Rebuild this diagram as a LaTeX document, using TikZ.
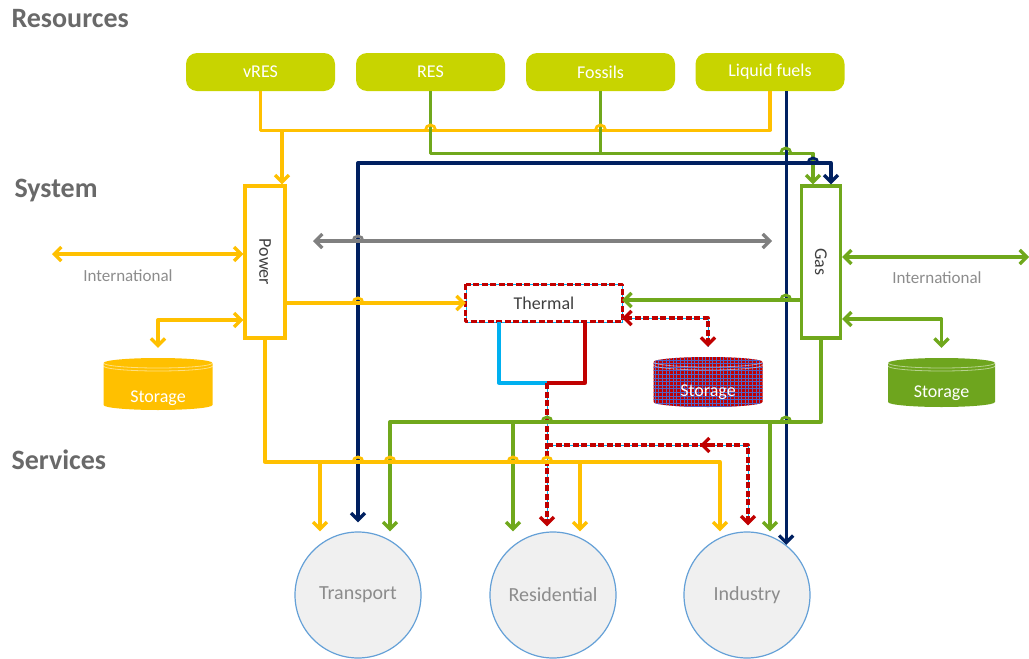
\documentclass[tikz,border=0pt]{standalone}
\usepackage{fontspec}
\usepackage{graphicx}
\setmainfont{Carlito}
\usetikzlibrary{arrows.meta,calc}
\definecolor{lime}{RGB}{200,212,0}
\definecolor{yel}{RGB}{255,192,0}
\definecolor{grn}{RGB}{112,168,28}
\definecolor{navy}{RGB}{0,32,96}
\definecolor{gry}{RGB}{128,128,128}
\definecolor{tred}{RGB}{192,0,0}
\definecolor{tblue}{RGB}{0,176,240}
\definecolor{ttl}{RGB}{105,105,105}
\definecolor{lbl}{RGB}{140,140,140}
\definecolor{dark}{RGB}{64,64,64}
\definecolor{circfill}{RGB}{240,240,240}
\definecolor{circline}{RGB}{100,160,215}
\definecolor{stblue}{RGB}{80,100,200}
\definecolor{stgrn}{RGB}{110,165,30}
\newcommand{\cylshape}[5]{%
  \path[#5] (#1-#4,#2) -- (#1-#4,#3) arc[start angle=180,end angle=360,x radius=#4pt,y radius=5pt]
    -- (#1+#4,#2) arc[start angle=0,end angle=180,x radius=#4pt,y radius=5pt] -- cycle;}
\newcommand{\cyltop}[3]{%
  \draw[white,opacity=.5,line width=.8pt] (#1-#3,#2) arc[start angle=180,end angle=360,x radius=#3pt,y radius=5pt];
  \draw[white,opacity=.5,line width=.8pt] (#1-#3,#2+3) arc[start angle=180,end angle=360,x radius=#3pt,y radius=5pt];}
\newcommand{\xbump}[3]{\draw[#3,line width=2.8pt] (#1-5,#2) arc[start angle=180,end angle=0,radius=5pt];}
\begin{document}
\begin{tikzpicture}[x=1pt,y=-1pt,
  ln/.style={line width=3.3pt,line join=round},
  tip/.style={-{Straight Barb[length=7pt,width=14pt]}},
  dtip/.style={{Straight Barb[length=7pt,width=14pt]}-{Straight Barb[length=7pt,width=14pt]}},
  rb/.style={tred,line width=3.3pt,line join=round,dash pattern=on 6pt off 2.5pt,
     preaction={draw=tblue,solid,arrows=-}},
  resbox/.style={rounded corners=11pt,fill=lime,minimum width=149pt,minimum height=38pt,
     text=white,font=\fontsize{18}{20}\selectfont},
  sysbox/.style={fill=white,line width=3.3pt,minimum height=152pt,inner sep=0pt,
     font=\fontsize{18}{20}\selectfont,text=dark},
  title/.style={anchor=west,text=ttl,font=\bfseries\fontsize{28}{30}\selectfont},
  sector/.style={circle,minimum size=126pt,inner sep=0pt,fill=circfill,draw=circline,line width=1.2pt,
     text=lbl,font=\fontsize{20}{22}\selectfont},
  intl/.style={text=lbl,font=\fontsize{17}{19}\selectfont},
  stlbl/.style={text=white,font=\fontsize{18}{20}\selectfont},
  hold/.style={inner sep=0pt,minimum width=109pt,minimum height=50pt},
]
\useasboundingbox (0,0) rectangle (1029,659);

% titles
\node[title] (tRes) at (8,19) {Resources};
\node[title] (tSys) at (11,191) {System};
\node[title] (tSer) at (8,460) {Services};

% resources
\node[resbox] (vres) at (260.5,72) {vRES};
\node[resbox] (res) at (430.5,72) {RES};
\node[resbox] (fos) at (600.5,72) {Fossils};
\node[resbox] (lf) at (770,72) {Liquid fuels};

% system
\node[sysbox,draw=yel,minimum width=40pt] (pow) at (265,262) {\rotatebox{-90}{Power}};
\node[sysbox,draw=grn,minimum width=39pt] (gas) at (821,262) {\rotatebox{-90}{Gas}};
\node[minimum width=156pt,minimum height=37pt,inner sep=0pt,fill=white,text=dark,
      font=\fontsize{18}{20}\selectfont] (th) at (544,303) {Thermal};
\draw[rb] (th.north west) rectangle (th.south east);

% services
\node[sector] (tr) at (358,595) {Transport};
\node[sector] (rs) at (553,595) {Residential};
\node[sector] (ind) at (747,595) {Industry};

% storages
\cylshape{158}{363}{405}{54.5}{fill=yel}
\cyltop{158}{363}{54.5}
\node[hold] (stP) at (158,383) {};
\node[stlbl] (stPl) at (158,398) {Storage};

\begin{scope}
\cylshape{708}{362}{402}{54.5}{clip}
\fill[tred] (650,350) rectangle (770,412);
\draw[stblue,line width=0.9pt] (650,350) grid[step=3.6pt] (770,412);
\end{scope}
\cyltop{708}{362}{54.5}
\node[hold] (stR) at (708,382) {};
\node[stlbl] (stRl) at (708,392) {Storage};

\cylshape{941.5}{363}{402}{53.5}{fill=stgrn}
\cyltop{941.5}{363}{53.5}
\node[hold] (stG) at (941.5,383) {};
\node[stlbl] (stGl) at (941.5,393) {Storage};

% coordinates
\coordinate (yj) at (282,130);
\coordinate (nj) at (ind.52 |- 0,163);
\coordinate (ga) at (313,241);
\coordinate (gb) at (772,241);
\coordinate (iP) at (52,254);
\coordinate (iG) at (1029,257);
\coordinate (tj) at (547,383);
\coordinate (rj) at (547,445);
\coordinate (gL) at (390,422);
\coordinate (gM) at (513,422);
\coordinate (gR) at (770,422);
\coordinate (yL) at (320,462);
\coordinate (yM) at (580,462);
\coordinate (yR) at (720,462);
\coordinate (trTop) at ([yshift=9pt]tr.north);
\coordinate (rsTop) at ([yshift=5pt]rs.north);
\coordinate (indTop) at ([yshift=6pt]ind.north);

% yellow from resources
\draw[ln,yel] (vres.south) -- ++(0,39) -| (lf.south);
\draw[ln,yel,tip] (yj) -- (yj |- pow.north);
% green from resources
\draw[ln,grn,tip] (res.south) -- ++(0,62) -| ([xshift=-8pt]gas.north);
\draw[ln,grn] (fos.south) -- (fos.south |- 0,153);
% navy liquid fuels
\draw[ln,navy,tip] (lf.south -| ind.52) -- (ind.52);
\draw[ln,navy,tip] (nj) -| ([xshift=10pt]gas.north);
\draw[ln,navy,tip] (nj) -| (trTop);

% exchange arrows
\draw[ln,gry,dtip] (ga) -- (gb);
\draw[ln,yel,dtip] (iP) -- (iP -| pow.west);
\node[intl] (iPl) at (128,276) {International};
\draw[ln,yel,dtip] (pow.west |- 0,320) -| ([yshift=10pt]stP.north);
\draw[ln,grn,dtip] (gas.east |- iG) -- (iG);
\node[intl] (iGl) at (937,278) {International};
\draw[ln,grn,dtip] (gas.east |- 0,319) -| ([yshift=10pt]stG.north);

% to thermal
\draw[ln,yel,tip] (pow.east |- th.west) -- (th.west);
\draw[ln,grn,tip] (gas.west |- 0,300) -- (th.east |- 0,300);
\draw[rb,dtip] (th.east |- 0,318) -| ([yshift=10pt]stR.north);

% thermal outputs
\draw[ln,tblue] (th.south -| 499,0) |- (tj);
\draw[ln,tred] (th.south -| 585,0) |- (tj);
\draw[rb,tip] (tj) -- (tj |- rsTop);
\draw[rb,tip] (rj) -| (indTop -| 748,0);
\draw[tred,line width=3.3pt,tip] ($(rj)+(163,0)$) -- ($(rj)+(153,0)$);

% gas to services
\draw[ln,grn,tip] (gas.south) |- (gL) -- (gL |- tr.north);
\draw[ln,grn,tip] (gM) -- (gM |- rs.north);
\draw[ln,grn,tip] (gR) -- (gR |- ind.north);

% power to services
\draw[ln,yel,tip] (pow.south) |- (yR) -- (yR |- ind.north);
\draw[ln,yel,tip] (yL) -- (yL |- tr.north);
\draw[ln,yel,tip] (yM) -- (yM |- rs.north);

% crossing bumps
\xbump{430.5}{130}{yel}
\xbump{600.5}{130}{yel}
\xbump{785.8}{153}{grn}
\xbump{813}{163}{navy}
\xbump{358}{241}{gry}
\xbump{358}{303}{yel}
\xbump{785.8}{300}{grn}
\xbump{547}{422}{grn}
\xbump{785.8}{422}{grn}
\xbump{358}{462}{yel}
\xbump{390}{462}{yel}
\xbump{513}{462}{yel}
\xbump{547}{462}{yel}
\end{tikzpicture}
\end{document}
